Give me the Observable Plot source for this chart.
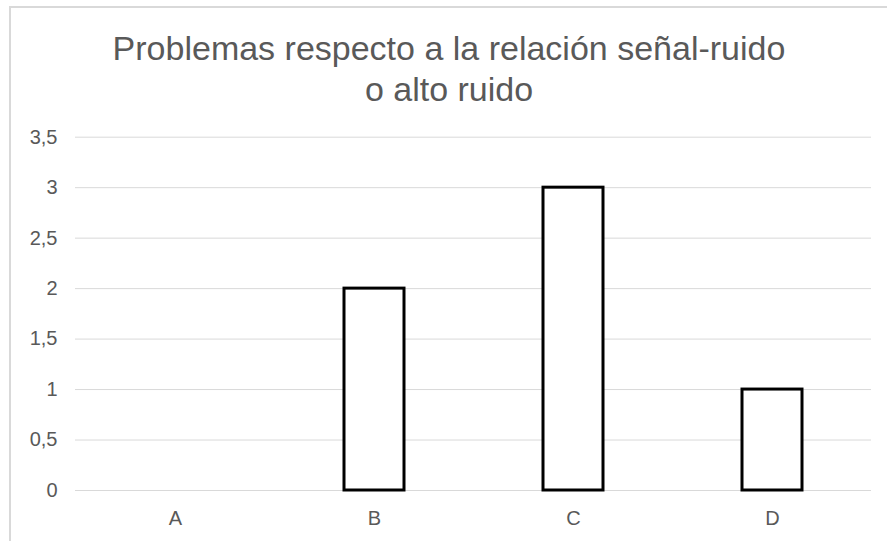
<!DOCTYPE html>
<html>
<head>
<meta charset="utf-8">
<script src="https://cdn.jsdelivr.net/npm/d3@7"></script>
<script src="https://cdn.jsdelivr.net/npm/@observablehq/plot@0.6"></script>
<style>
  body { margin: 0; background: #fff; }
  #wrap { position: relative; width: 887px; height: 541px; overflow: hidden; background: #fff; font-family: "Liberation Sans", Arial, sans-serif; }
  #title { box-sizing: border-box; height: 115px; width: 880px; margin-left: 9px; padding-top: 28px; font-size: 34px; line-height: 41px; text-align: center; color: #595959; }
  #frame { position: absolute; left: 9px; top: 6px; width: 1000px; height: 1000px; border-left: 2px solid #d9d9d9; border-top: 2px solid #d9d9d9; pointer-events: none; }
</style>
</head>
<body>
<div id="wrap">
  <div id="title"></div>
  <div id="chart"></div>
  <div id="frame"></div>
</div>
<script>
const titleLines = ["Problemas respecto a la relación señal-ruido", "o alto ruido"];
const categories = ["A", "B", "C", "D"];
const values = [0, 2, 3, 1];
const yTicks = [0, 0.5, 1, 1.5, 2, 2.5, 3, 3.5];

const titleEl = document.getElementById("title");
titleLines.forEach((t, i) => {
  if (i > 0) titleEl.appendChild(document.createElement("br"));
  titleEl.appendChild(document.createTextNode(t));
});

const data = categories.map((c, i) => ({category: c, value: values[i]}));
const fmt = d => String(d).replace(".", ",");

const chart = Plot.plot({
  width: 887,
  height: 426,
  marginLeft: 75,
  marginRight: 16,
  marginTop: 21.7,
  marginBottom: 51,
  style: {background: "transparent", color: "#595959", fontSize: "20px", fontFamily: "'Liberation Sans', Arial, sans-serif"},
  x: {domain: categories, paddingInner: 0.7, paddingOuter: 0.35, label: null},
  y: {domain: [0, 3.5], label: null},
  marks: [
    Plot.gridY(yTicks, {stroke: "#d9d9d9", strokeOpacity: 1, strokeWidth: 1}),
    Plot.axisY(yTicks, {tickSize: 0, tickPadding: 18, tickFormat: fmt, label: null}),
    Plot.axisX({tickSize: 0, tickPadding: 20, label: null}),
    Plot.barY(data, {x: "category", y: "value", fill: "white", stroke: "black", strokeWidth: 3, filter: d => d.value > 0})
  ]
});
document.getElementById("chart").appendChild(chart);
</script>
</body>
</html>
